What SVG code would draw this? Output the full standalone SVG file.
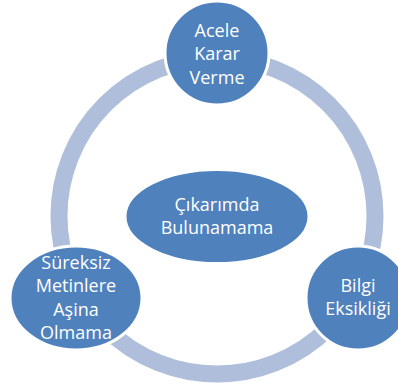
<svg xmlns="http://www.w3.org/2000/svg" width="398" height="385" viewBox="0 0 398 385">
<style>
.node{fill:#4F81BD;stroke:#FFFFFF;stroke-width:3}
.t{font-family:"Open Sans","Noto Sans","Liberation Sans",sans-serif;font-size:18px;fill:#FFFFFF;text-anchor:middle}
.ring{fill:none;stroke:#AFBFDB;stroke-width:17}
</style>
<rect width="398" height="385" fill="#FFFFFF"/>
<g id="connectors">
<circle class="ring" cx="217" cy="216" r="158"/>
</g>
<g id="node-acele">
<circle class="node" cx="217" cy="53" r="52"/>
<text class="t" x="217" y="37">Acele</text>
<text class="t" x="217" y="60">Karar</text>
<text class="t" x="217" y="84">Verme</text>
</g>
<g id="node-center">
<ellipse class="node" cx="217" cy="216.5" rx="92" ry="47"/>
<text class="t" x="217" y="211">Çıkarımda</text>
<text class="t" x="217" y="234">Bulunamama</text>
</g>
<g id="node-sureksiz">
<ellipse class="node" cx="76" cy="298" rx="66" ry="52"/>
<text class="t" x="76" y="269">Süreksiz</text>
<text class="t" x="76" y="292">Metinlere</text>
<text class="t" x="76" y="316">Aşina</text>
<text class="t" x="76" y="339">Olmama</text>
</g>
<g id="node-bilgi">
<circle class="node" cx="358" cy="298" r="52"/>
<text class="t" x="358" y="292">Bilgi</text>
<text class="t" x="358" y="315">Eksikliği</text>
</g>
</svg>
